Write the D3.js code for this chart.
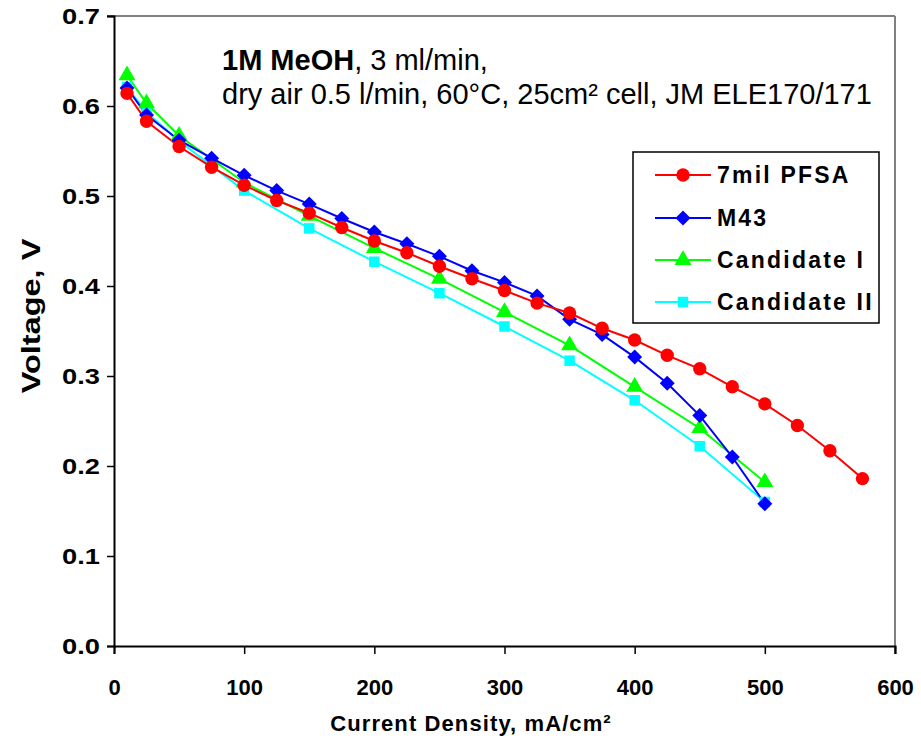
<!DOCTYPE html>
<html>
<head>
<meta charset="utf-8">
<script src="https://cdn.jsdelivr.net/npm/d3@7"></script>
<style>
  body { margin: 0; background: #fff; }
  svg { font-family: "Liberation Sans", Arial, sans-serif; }
</style>
</head>
<body>
<svg width="921" height="743"></svg>
<script>
// chart data
var seriesNames = ["7mil PFSA", "M43", "Candidate I", "Candidate II"];

var pfsaX = [10, 25, 50, 75, 100, 125, 150, 175, 200, 225, 250, 275, 300, 325, 350, 375, 400, 425, 450, 475, 500, 525, 550, 575];
var pfsaV = [0.614, 0.583, 0.555, 0.532, 0.512, 0.495, 0.481, 0.465, 0.450, 0.437, 0.422, 0.408, 0.395, 0.381, 0.370, 0.353, 0.340, 0.323, 0.308, 0.288, 0.269, 0.245, 0.217, 0.186];

var m43X = [10, 25, 50, 75, 100, 125, 150, 175, 200, 225, 250, 275, 300, 325, 350, 375, 400, 425, 450, 475, 500];
var m43V = [0.620, 0.590, 0.562, 0.542, 0.523, 0.506, 0.491, 0.475, 0.460, 0.447, 0.433, 0.417, 0.404, 0.389, 0.363, 0.346, 0.321, 0.292, 0.256, 0.210, 0.158];

var cand1X = [10, 25, 50, 100, 150, 200, 250, 300, 350, 400, 450, 500];
var cand1V = [0.634, 0.603, 0.567, 0.515, 0.478, 0.442, 0.408, 0.371, 0.334, 0.288, 0.242, 0.182];

var cand2X = [10, 25, 50, 100, 150, 200, 250, 300, 350, 400, 450, 500];
var cand2V = [0.621, 0.593, 0.561, 0.506, 0.464, 0.427, 0.392, 0.355, 0.317, 0.273, 0.222, 0.160];

var xTicks = [0, 100, 200, 300, 400, 500, 600];
var yTicks = [0, 0.1, 0.2, 0.3, 0.4, 0.5, 0.6, 0.7];

var svg = d3.select("svg");
var plotL = 114, plotR = 895, plotT = 16, plotB = 646;

var x = d3.scaleLinear().domain([0, 600]).range([plotL, plotR]);
var y = d3.scaleLinear().domain([0, 0.7]).range([plotB, plotT]);

// diamond = square turned 45 degrees
var styles = [
  { color: "#ff0000", sym: d3.symbolCircle, size: 140, rot: 0 },
  { color: "#0000ff", sym: d3.symbolSquare, size: 112, rot: 45 },
  { color: "#00ff00", sym: d3.symbolTriangle, size: 125, rot: 0 },
  { color: "#00ffff", sym: d3.symbolSquare, size: 110, rot: 0 }
];

function pairs(xs, vs) {
  return xs.map(function(d, i) { return [d, vs[i]]; });
}
var series = [pairs(pfsaX, pfsaV), pairs(m43X, m43V), pairs(cand1X, cand1V), pairs(cand2X, cand2V)];

// frame (grey top / right)
svg.append("line").attr("x1", plotL - 7).attr("x2", plotR).attr("y1", plotT).attr("y2", plotT)
  .attr("stroke", "#808080").attr("stroke-width", 2);
svg.append("line").attr("x1", plotR).attr("x2", plotR).attr("y1", plotT).attr("y2", plotB + 8)
  .attr("stroke", "#808080").attr("stroke-width", 2);

// axes
var xAxis = svg.append("g").attr("transform", "translate(0," + plotB + ")")
  .call(d3.axisBottom(x).tickValues(xTicks).tickSize(8).tickPadding(25).tickFormat(d3.format("d")));
var yAxis = svg.append("g").attr("transform", "translate(" + plotL + ",0)")
  .call(d3.axisLeft(y).tickValues(yTicks).tickSize(7).tickPadding(7).tickFormat(d3.format(".1f")));
[xAxis, yAxis].forEach(function(a) {
  a.select(".domain").attr("stroke", "#000").attr("stroke-width", 2);
  a.selectAll(".tick line").attr("stroke", "#000").attr("stroke-width", 1.5);
  a.selectAll(".tick text").attr("fill", "#000").style("font-weight", "bold").style("font-size", "22px");
});
// y labels drawn wide as in the picture
yAxis.selectAll(".tick text").attr("x", -14 / 1.24).attr("transform", "scale(1.24,1)");

// lines and markers
var line = d3.line().x(function(d) { return x(d[0]); }).y(function(d) { return y(d[1]); });
var order = [3, 2, 1, 0];
order.forEach(function(k) {
  svg.append("path").datum(series[k]).attr("d", line)
    .attr("fill", "none").attr("stroke", styles[k].color).attr("stroke-width", 2);
});
order.forEach(function(k) {
  svg.append("g").selectAll("path").data(series[k]).enter().append("path")
    .attr("d", d3.symbol().type(styles[k].sym).size(styles[k].size))
    .attr("transform", function(d) {
      return "translate(" + x(d[0]) + "," + y(d[1]) + ") rotate(" + styles[k].rot + ")";
    })
    .attr("fill", styles[k].color);
});

// axis titles
svg.append("text").attr("x", 471).attr("y", 731).attr("text-anchor", "middle")
  .style("font-size", "22px").style("font-weight", "bold").style("letter-spacing", "1.1px")
  .text("Current Density, mA/cm²");
svg.append("text").attr("transform", "translate(40,316) rotate(-90) scale(1.3,1)").attr("text-anchor", "middle")
  .style("font-size", "25px").style("font-weight", "bold")
  .text("Voltage, V");

// annotation
var note = svg.append("text").attr("x", 222).attr("y", 70).style("font-size", "29px");
note.append("tspan").style("font-weight", "bold").text("1M MeOH");
note.append("tspan").text(", 3 ml/min,");
svg.append("text").attr("x", 222).attr("y", 104).style("font-size", "29px")
  .text("dry air 0.5 l/min, 60°C, 25cm² cell, JM ELE170/171");

// legend
var lg = svg.append("g");
lg.append("rect").attr("x", 633).attr("y", 152).attr("width", 246).attr("height", 171)
  .attr("fill", "#fff").attr("stroke", "#000").attr("stroke-width", 1.5);
var rowY = [175, 218, 260, 302];
seriesNames.forEach(function(name, k) {
  var g = lg.append("g").attr("transform", "translate(0," + rowY[k] + ")");
  g.append("line").attr("x1", 655).attr("x2", 711).attr("stroke", styles[k].color).attr("stroke-width", 2);
  g.append("path").attr("d", d3.symbol().type(styles[k].sym).size(styles[k].size))
    .attr("transform", "translate(683,0) rotate(" + styles[k].rot + ")").attr("fill", styles[k].color);
  g.append("text").attr("x", 717).attr("y", 8).style("font-size", "23px")
    .style("font-weight", "bold").style("letter-spacing", "2.2px").text(name);
});
</script>
</body>
</html>
